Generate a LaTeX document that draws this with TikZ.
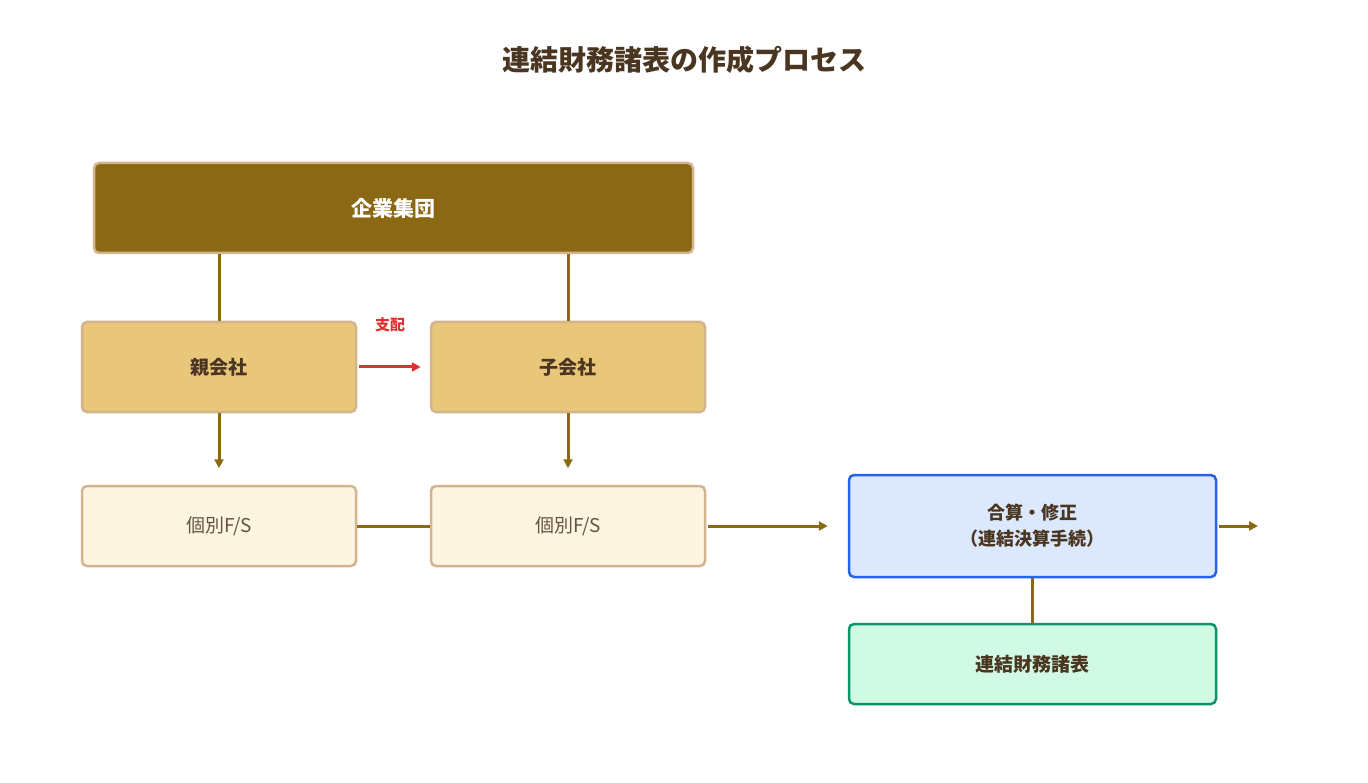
\documentclass[tikz,border=0pt]{standalone}
\usepackage{fontspec}
\setmainfont{Noto Sans CJK JP}
\usetikzlibrary{arrows.meta}
\definecolor{brn}{HTML}{8B6914}
\definecolor{txt}{HTML}{4A3520}
\definecolor{bord}{HTML}{D4B48C}
\definecolor{gold}{HTML}{E8C77A}
\definecolor{cream}{HTML}{FDF5E2}
\definecolor{blu}{HTML}{2563EB}
\definecolor{lblu}{HTML}{DCE9FD}
\definecolor{grn}{HTML}{059669}
\definecolor{lgrn}{HTML}{D1FAE5}
\definecolor{redc}{HTML}{E03131}
\tikzset{
 bx/.style={draw, rounded corners=5pt, line width=2.5pt, inner sep=0pt, align=center, text=txt, font=\fontsize{19}{24}\selectfont\bfseries},
 conn/.style={brn, line width=3pt},
 arr/.style={conn, -{Triangle[length=9pt,width=9pt]}},
}
\begin{document}
\begin{tikzpicture}[x=1pt,y=-1pt]
\useasboundingbox[fill=white] (0,0) rectangle (1368,783);
\node[font=\fontsize{28}{34}\selectfont\bfseries, text=txt] (title) at (684,60) {連結財務諸表の作成プロセス};
\node[bx, fill=brn, draw=bord, text=white, minimum width=599pt, minimum height=90pt, font=\fontsize{21}{26}\selectfont\bfseries] (grp) at (393.5,208) {企業集団};
\node[bx, fill=gold, draw=bord, minimum width=274pt, minimum height=90pt] (par) at (219,367) {親会社};
\node[bx, fill=gold, draw=bord, minimum width=274pt, minimum height=90pt] (sub) at (568,367) {子会社};
\node[bx, fill=cream, draw=bord, minimum width=274pt, minimum height=80pt, font=\fontsize{19}{24}\selectfont, text=txt!85] (fs1) at (219,526) {個別F/S};
\node[bx, fill=cream, draw=bord, minimum width=274pt, minimum height=80pt, font=\fontsize{19}{24}\selectfont, text=txt!85] (fs2) at (568,526) {個別F/S};
\node[bx, fill=lblu, draw=blu, minimum width=367pt, minimum height=102pt, font=\fontsize{18}{26}\selectfont\bfseries] (sum) at (1032.5,526) {合算・修正\\（連結決算手続）};
\node[bx, fill=lgrn, draw=grn, minimum width=367pt, minimum height=80pt] (cons) at (1032.5,664) {連結財務諸表};
\coordinate (e1) at (1258,526);
\draw[conn] (grp.south -| par) -- (par.north);
\draw[conn] (grp.south -| sub) -- (sub.north);
\draw[arr] (par.south) -- ++(0,55);
\draw[arr] (sub.south) -- ++(0,55);
\draw[redc, line width=3pt, -{Triangle[length=9pt,width=9pt]}] ([xshift=2pt]par.east) -- ([xshift=-9pt]sub.west) node[midway, above=30pt, font=\fontsize{15}{18}\selectfont\bfseries, text=redc] (lab) {支配};
\draw[conn] (fs1.east) -- (fs2.west);
\draw[arr] ([xshift=2pt]fs2.east) -- ([xshift=-20pt]sum.west);
\draw[arr] ([xshift=2pt]sum.east) -- (e1);
\draw[conn] (sum.south) -- (cons.north);
\end{tikzpicture}
\end{document}
